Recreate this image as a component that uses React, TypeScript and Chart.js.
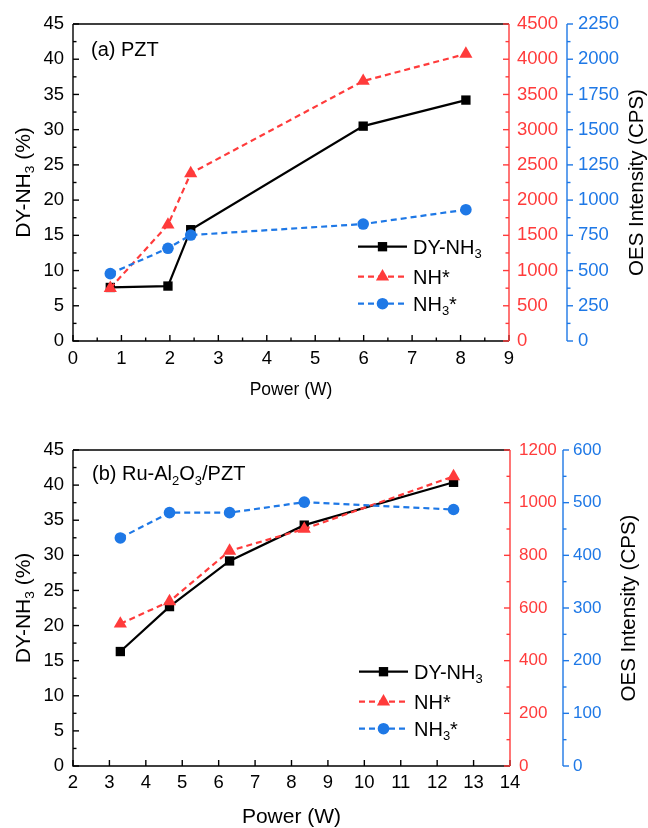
import React, { useEffect, useRef } from "react";
import { Chart, registerables } from "chart.js";
import { drawPoint } from "chart.js/helpers";

Chart.register(...registerables);

const FONT = "'Liberation Sans', Arial, Helvetica, sans-serif";
const RED = "#FF3B3B";
const BLUE = "#1E78E6";
const BLACK = "#000000";

// ---------- data: panel (a) PZT ----------
const powerA = [0.77, 1.96, 2.43, 5.99, 8.11];
const dyA = [7.6, 7.8, 15.8, 30.5, 34.2];
const nhA = [750, 1650, 2380, 3690, 4075];
const nh3A = [478, 658, 752, 830, 932];

// ---------- data: panel (b) Ru-Al2O3/PZT ----------
const powerB = [3.3, 4.65, 6.3, 8.35, 12.45];
const dyB = [16.3, 22.7, 29.2, 34.3, 40.4];
const nhB = [540, 625, 817, 900, 1100];
const nh3B = [433, 481, 481, 501, 487];

// ---------- axis ranges ----------
const xRangeA = [0, 9];
const xRangeB = [2, 14];
const leftRange = [0, 45];
const redRangeA = [0, 4500];
const blueRangeA = [0, 2250];
const redRangeB = [0, 1200];
const blueRangeB = [0, 600];

type Seg = { t: string; sub?: boolean };

const legendTexts: Seg[][] = [
  [{ t: "DY-NH" }, { t: "3", sub: true }],
  [{ t: "NH*" }],
  [{ t: "NH" }, { t: "3", sub: true }, { t: "*" }],
];
const leftTitle: Seg[] = [{ t: "DY-NH" }, { t: "3", sub: true }, { t: " (%)" }];
const rightTitle: Seg[] = [{ t: "OES Intensity (CPS)" }];
const labelA: Seg[] = [{ t: "(a) PZT" }];
const labelB: Seg[] = [
  { t: "(b) Ru-Al" },
  { t: "2", sub: true },
  { t: "O" },
  { t: "3", sub: true },
  { t: "/PZT" },
];

interface PanelCfg {
  power: number[];
  dy: number[];
  nh: number[];
  nh3: number[];
  xRange: number[];
  xStep: number;
  xMinor: number;
  redRange: number[];
  redStep: number;
  redMinor: number;
  blueRange: number[];
  blueStep: number;
  blueMinor: number;
  label: Seg[];
  top: number;
  xAxisH: number;
  leftW: number;
  redW: number;
  blueW: number;
  xPad: number;
  redPad: number;
  bluePad: number;
  rightTickSize: number;
  powerSize: number;
  powerPad: number;
  rightTitleX: number;
  labelDx: number;
  labelDy: number;
}

const panelA: PanelCfg = {
  power: powerA, dy: dyA, nh: nhA, nh3: nh3A,
  xRange: xRangeA, xStep: 1, xMinor: 0.5,
  redRange: redRangeA, redStep: 500, redMinor: 250,
  blueRange: blueRangeA, blueStep: 250, blueMinor: 125,
  label: labelA,
  top: 24, xAxisH: 73, leftW: 73, redW: 58, blueW: 81,
  xPad: 7, redPad: 8, bluePad: 11, rightTickSize: 18.5,
  powerSize: 17.5, powerPad: 15, rightTitleX: 636,
  labelDx: 18, labelDy: 25,
};

const panelB: PanelCfg = {
  power: powerB, dy: dyB, nh: nhB, nh3: nh3B,
  xRange: xRangeB, xStep: 1, xMinor: 1,
  redRange: redRangeB, redStep: 200, redMinor: 100,
  blueRange: blueRangeB, blueStep: 100, blueMinor: 50,
  label: labelB,
  top: 36, xAxisH: 62, leftW: 73, redW: 53, blueW: 85,
  xPad: 6, redPad: 9, bluePad: 10, rightTickSize: 17,
  powerSize: 21, powerPad: 0, rightTitleX: 628,
  labelDx: 19, labelDy: 23,
};

function segFont(size: number, sub?: boolean) {
  return `${sub ? size * 0.65 : size}px ${FONT}`;
}
function richWidth(ctx: CanvasRenderingContext2D, segs: Seg[], size: number) {
  let w = 0;
  for (const s of segs) {
    ctx.font = segFont(size, s.sub);
    w += ctx.measureText(s.t).width;
  }
  return w;
}
function drawRich(
  ctx: CanvasRenderingContext2D,
  segs: Seg[],
  x: number,
  cy: number,
  size: number,
  color: string,
  align: "left" | "center"
) {
  const w = richWidth(ctx, segs, size);
  let cx = align === "center" ? x - w / 2 : x;
  const base = cy + size * 0.358;
  ctx.fillStyle = color;
  ctx.textAlign = "left";
  ctx.textBaseline = "alphabetic";
  for (const s of segs) {
    ctx.font = segFont(size, s.sub);
    ctx.fillText(s.t, cx, s.sub ? base + size * 0.22 : base);
    cx += ctx.measureText(s.t).width;
  }
}

function vTicks(
  ctx: CanvasRenderingContext2D,
  scale: any,
  x: number,
  range: number[],
  major: number,
  minor: number,
  dir: number
) {
  const n = Math.round((range[1] - range[0]) / minor);
  for (let i = 0; i <= n; i++) {
    const v = range[0] + i * minor;
    const isMajor = Math.abs(v / major - Math.round(v / major)) < 1e-6;
    const len = isMajor ? 6 : 3.5;
    const y = scale.getPixelForValue(v);
    ctx.beginPath();
    ctx.moveTo(x, y);
    ctx.lineTo(x + dir * len, y);
    ctx.stroke();
  }
}
function hTicks(
  ctx: CanvasRenderingContext2D,
  scale: any,
  y: number,
  range: number[],
  major: number,
  minor: number
) {
  const n = Math.round((range[1] - range[0]) / minor);
  for (let i = 0; i <= n; i++) {
    const v = range[0] + i * minor;
    const isMajor = Math.abs(v / major - Math.round(v / major)) < 1e-6;
    const len = isMajor ? 6 : 3.5;
    const x = scale.getPixelForValue(v);
    ctx.beginPath();
    ctx.moveTo(x, y);
    ctx.lineTo(x, y - len);
    ctx.stroke();
  }
}

function makePlugin(cfg: PanelCfg) {
  return {
    id: "panelDecor",
    beforeDatasetsDraw(chart: any) {
      const { ctx, chartArea, scales } = chart;
      const { left, right, top, bottom } = chartArea;
      ctx.save();
      ctx.lineWidth = 1.4;
      ctx.lineCap = "butt";
      ctx.strokeStyle = BLACK;
      ctx.beginPath();
      ctx.moveTo(left, top);
      ctx.lineTo(right, top);
      ctx.moveTo(left, top);
      ctx.lineTo(left, bottom);
      ctx.lineTo(right, bottom);
      ctx.stroke();
      vTicks(ctx, scales.y, left, leftRange, 5, 2.5, 1);
      hTicks(ctx, scales.x, bottom, cfg.xRange, cfg.xStep, cfg.xMinor);
      ctx.strokeStyle = RED;
      ctx.beginPath();
      ctx.moveTo(right, top);
      ctx.lineTo(right, bottom);
      ctx.stroke();
      vTicks(ctx, scales.yR, right, cfg.redRange, cfg.redStep, cfg.redMinor, -1);
      const bx = scales.yB.left;
      ctx.strokeStyle = BLUE;
      ctx.beginPath();
      ctx.moveTo(bx, top);
      ctx.lineTo(bx, bottom);
      ctx.stroke();
      vTicks(ctx, scales.yB, bx, cfg.blueRange, cfg.blueStep, cfg.blueMinor, 1);
      ctx.restore();
    },
    afterDraw(chart: any) {
      const { ctx, chartArea } = chart;
      const { left, right, top, bottom } = chartArea;
      const midY = (top + bottom) / 2;
      ctx.save();
      ctx.save();
      ctx.translate(22, midY);
      ctx.rotate(-Math.PI / 2);
      drawRich(ctx, leftTitle, 0, 0, 21, BLACK, "center");
      ctx.restore();
      ctx.save();
      ctx.translate(cfg.rightTitleX, midY);
      ctx.rotate(-Math.PI / 2);
      drawRich(ctx, rightTitle, 0, 0, 20.5, BLACK, "center");
      ctx.restore();
      drawRich(ctx, cfg.label, left + cfg.labelDx, top + cfg.labelDy, 20, BLACK, "left");
      const rowsY = [bottom - 94.3, bottom - 64.3, bottom - 37.3];
      const x0 = right - 151;
      const x1 = right - 102;
      const mx = (x0 + x1) / 2;
      chart.data.datasets.forEach((ds: any, i: number) => {
        const y = rowsY[i];
        ctx.save();
        ctx.strokeStyle = ds.borderColor;
        ctx.lineWidth = ds.borderWidth;
        ctx.setLineDash(ds.borderDash || []);
        ctx.beginPath();
        ctx.moveTo(x0, y);
        ctx.lineTo(x1, y);
        ctx.stroke();
        ctx.setLineDash([]);
        ctx.fillStyle = ds.backgroundColor;
        drawPoint(ctx, { pointStyle: ds.pointStyle, radius: ds.pointRadius, rotation: 0, borderWidth: 0 } as any, mx, y);
        ctx.restore();
        drawRich(ctx, legendTexts[i], right - 96, y, 20, BLACK, "left");
      });
      ctx.restore();
    },
  };
}

const numLabel = (v: any) => `${v}`;

function buildConfig(cfg: PanelCfg): any {
  const pts = (ys: number[]) => cfg.power.map((x, i) => ({ x, y: ys[i] }));
  const tickFont = { family: FONT, size: 18.5 };
  return {
    type: "scatter",
    data: {
      datasets: [
        {
          label: "DY-NH3",
          data: pts(cfg.dy),
          yAxisID: "y",
          showLine: true,
          borderColor: BLACK,
          backgroundColor: BLACK,
          borderWidth: 2.2,
          pointStyle: "rect",
          pointRadius: 6.6,
          pointBorderWidth: 0,
          order: 3,
        },
        {
          label: "NH*",
          data: pts(cfg.nh),
          yAxisID: "yR",
          showLine: true,
          borderColor: RED,
          backgroundColor: RED,
          borderWidth: 2.2,
          borderDash: [6, 4],
          pointStyle: "triangle",
          pointRadius: 7.6,
          pointBorderWidth: 0,
          order: 2,
        },
        {
          label: "NH3*",
          data: pts(cfg.nh3),
          yAxisID: "yB",
          showLine: true,
          borderColor: BLUE,
          backgroundColor: BLUE,
          borderWidth: 2.2,
          borderDash: [6, 4],
          pointStyle: "circle",
          pointRadius: 5.8,
          pointBorderWidth: 0,
          order: 1,
        },
      ],
    },
    options: {
      animation: false,
      responsive: false,
      maintainAspectRatio: false,
      devicePixelRatio: 1,
      layout: { padding: { top: cfg.top, left: 0, right: 0, bottom: 0 } },
      plugins: { legend: { display: false }, tooltip: { enabled: false } },
      scales: {
        x: {
          type: "linear",
          position: "bottom",
          min: cfg.xRange[0],
          max: cfg.xRange[1],
          grid: { display: false, drawTicks: false },
          border: { display: false },
          ticks: {
            stepSize: cfg.xStep,
            autoSkip: false,
            maxRotation: 0,
            color: BLACK,
            font: tickFont,
            padding: cfg.xPad,
            callback: numLabel,
          },
          title: {
            display: true,
            text: "Power (W)",
            color: BLACK,
            font: { family: FONT, size: cfg.powerSize, lineHeight: 1 },
            padding: { top: 0, bottom: cfg.powerPad },
          },
          afterFit: (s: any) => {
            s.height = cfg.xAxisH;
          },
        },
        y: {
          type: "linear",
          position: "left",
          min: leftRange[0],
          max: leftRange[1],
          grid: { display: false, drawTicks: false },
          border: { display: false },
          ticks: { stepSize: 5, color: BLACK, font: tickFont, padding: 9, callback: numLabel },
          afterFit: (s: any) => {
            s.width = cfg.leftW;
          },
        },
        yR: {
          type: "linear",
          position: "right",
          weight: 1,
          min: cfg.redRange[0],
          max: cfg.redRange[1],
          grid: { display: false, drawTicks: false },
          border: { display: false },
          ticks: {
            stepSize: cfg.redStep,
            color: RED,
            font: { family: FONT, size: cfg.rightTickSize },
            padding: cfg.redPad,
            callback: numLabel,
          },
          afterFit: (s: any) => {
            s.width = cfg.redW;
          },
        },
        yB: {
          type: "linear",
          position: "right",
          weight: 2,
          min: cfg.blueRange[0],
          max: cfg.blueRange[1],
          grid: { display: false, drawTicks: false },
          border: { display: false },
          ticks: {
            stepSize: cfg.blueStep,
            color: BLUE,
            font: { family: FONT, size: cfg.rightTickSize },
            padding: cfg.bluePad,
            callback: numLabel,
          },
          afterFit: (s: any) => {
            s.width = cfg.blueW;
          },
        },
      },
    },
    plugins: [makePlugin(cfg)],
  };
}

function Panel({ cfg }: { cfg: PanelCfg }) {
  const ref = useRef<HTMLCanvasElement>(null);
  useEffect(() => {
    const chart = new Chart(ref.current as HTMLCanvasElement, buildConfig(cfg));
    return () => chart.destroy();
  }, [cfg]);
  return (
    <canvas
      ref={ref}
      width={648}
      height={414}
      style={{ display: "block", width: 648, height: 414 }}
    />
  );
}

export default function App() {
  return (
    <div
      style={{
        position: "absolute",
        left: 0,
        top: 0,
        width: 648,
        height: 828,
        background: "#ffffff",
      }}
    >
      <Panel cfg={panelA} />
      <Panel cfg={panelB} />
    </div>
  );
}
